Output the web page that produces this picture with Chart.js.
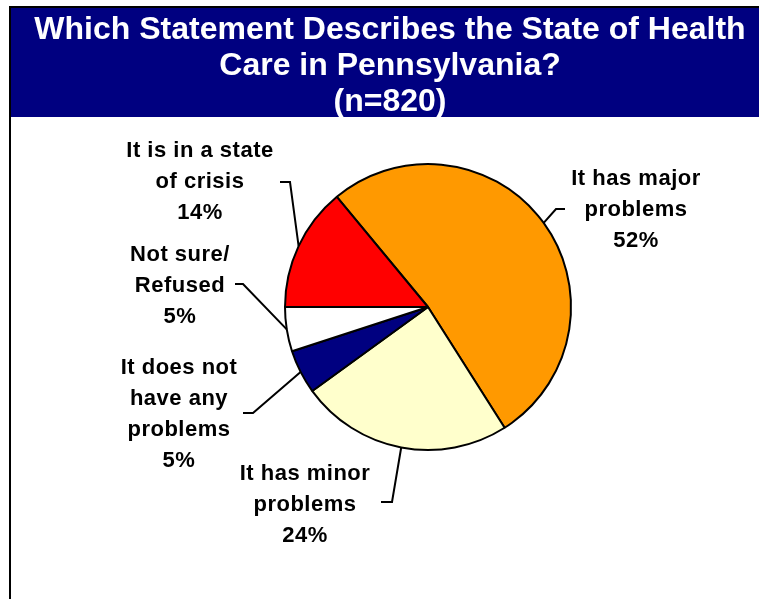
<!DOCTYPE html>
<html>
<head>
<meta charset="utf-8">
<title>Health Care in Pennsylvania</title>
<script src="https://cdn.jsdelivr.net/npm/chart.js@4/dist/chart.umd.min.js"></script>
<style>
  html, body { margin: 0; padding: 0; background: #fff; }
  #wrap { position: relative; width: 759px; height: 599px; overflow: hidden; }
  #frame {
    position: absolute; left: 9px; top: 6px; width: 750px; height: 593px;
    border-left: 2px solid #000; border-top: 2px solid #000;
  }
  #banner {
    position: absolute; left: 11px; top: 8px; width: 748px; height: 109px;
    background: #000080; color: #fff; text-align: center;
    font: bold 32px "Liberation Sans", Arial, sans-serif; line-height: 36px;
    padding: 2px 0 0 10px; box-sizing: border-box; z-index: 2;
  }
  #box { position: absolute; left: 0; top: 0; width: 759px; height: 599px; }
</style>
</head>
<body>
<div id="wrap">
  <div id="frame"></div>
  <div id="banner">Which Statement Describes the State of Health<br>Care in Pennsylvania?<br>(n=820)</div>
  <div id="box"><canvas id="pie"></canvas></div>
</div>
<script>
// answers, clockwise from the top-right
var categories = ['It has major problems', 'It has minor problems', 'It does not have any problems', 'Not sure/Refused', 'It is in a state of crisis'];
var labelLines = [
    ['It has major', 'problems'],
    ['It has minor', 'problems'],
    ['It does not', 'have any', 'problems'],
    ['Not sure/', 'Refused'],
    ['It is in a state', 'of crisis']
];
var shares = [52, 24, 5, 5, 14];
var sliceColors = ['#FF9900', '#FFFFCC', '#000080', '#FFFFFF', '#FF0000'];

// callout placement, offsets from the pie centre: elbow, tail end, first text baseline
var callouts = [
    { elbow: [128, -98], tail: [137, -98], text: [208, -122] },
    { elbow: [-36, 195], tail: [-47, 195], text: [-123, 173] },
    { elbow: [-175, 106], tail: [-185, 106], text: [-249, 67] },
    { elbow: [-185, -23], tail: [-193, -23], text: [-248, -46] },
    { elbow: [-138, -125], tail: [-148, -125], text: [-228, -150] }
];
var lineGap = 31;

var calloutPlugin = {
    id: 'callouts',
    afterDatasetsDraw: function (chart) {
        var ctx = chart.ctx;
        var meta = chart.getDatasetMeta(0);
        ctx.save();
        ctx.strokeStyle = '#000';
        ctx.lineWidth = 2;
        ctx.fillStyle = '#000';
        ctx.font = 'bold 22px "Liberation Sans", Arial, sans-serif';
        ctx.letterSpacing = '0.5px';
        ctx.textAlign = 'center';
        ctx.textBaseline = 'alphabetic';
        meta.data.forEach(function (arc, i) {
            var p = arc.getProps(['x', 'y', 'startAngle', 'endAngle', 'outerRadius'], true);
            var mid = (p.startAngle + p.endAngle) / 2;
            var c = callouts[i];
            ctx.beginPath();
            ctx.moveTo(p.x + Math.cos(mid) * p.outerRadius, p.y + Math.sin(mid) * p.outerRadius);
            ctx.lineTo(p.x + c.elbow[0], p.y + c.elbow[1]);
            ctx.lineTo(p.x + c.tail[0], p.y + c.tail[1]);
            ctx.stroke();
            var lines = labelLines[i].concat([shares[i] + '%']);
            lines.forEach(function (t, k) {
                ctx.fillText(t, p.x + c.text[0], p.y + c.text[1] + k * lineGap);
            });
        });
        ctx.restore();
    }
};

new Chart(document.getElementById('pie'), {
    type: 'pie',
    data: {
        labels: categories,
        datasets: [{
            data: shares,
            backgroundColor: sliceColors,
            borderColor: '#000',
            borderWidth: 2
        }]
    },
    options: {
        responsive: true,
        maintainAspectRatio: false,
        animation: false,
        rotation: -39.6,
        layout: { padding: { left: 284, right: 187, top: 163, bottom: 148 } },
        plugins: {
            legend: { display: false },
            tooltip: { enabled: false },
            title: { display: false }
        }
    },
    plugins: [calloutPlugin]
});
</script>
</body>
</html>
